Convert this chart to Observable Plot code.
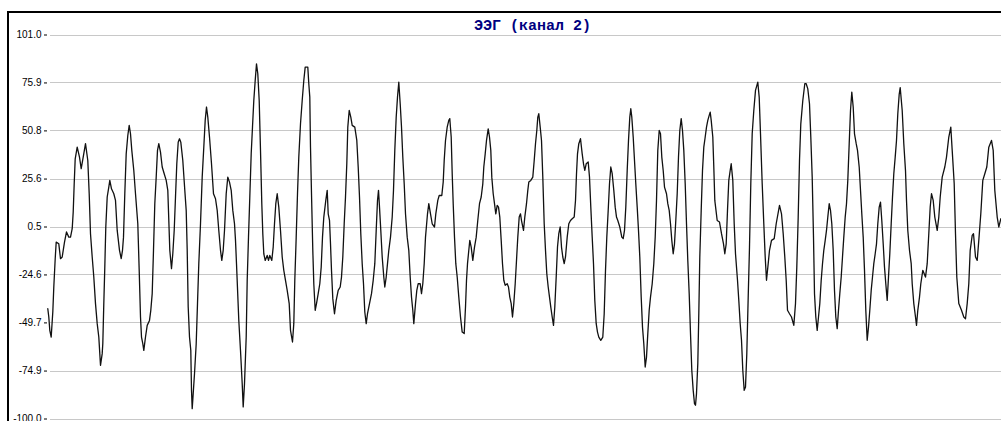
<!DOCTYPE html>
<html>
<head>
<meta charset="utf-8">
<script src="https://cdn.jsdelivr.net/npm/d3@7"></script>
<script src="https://cdn.jsdelivr.net/npm/@observablehq/plot@0.6"></script>
<style>
  html, body { margin: 0; padding: 0; background: #fff; }
  #wrap { position: relative; width: 1001px; height: 421px; overflow: hidden; }
  #panel { position: absolute; left: 7px; top: 11px; width: 1100px; height: 500px;
           border-left: 2px solid #000; border-top: 2px solid #000; pointer-events: none; }
  #wrap svg { position: absolute; left: 0; top: 0; }
</style>
</head>
<body>
<div id="wrap"><div id="panel"></div></div>
<script>
// EEG trace, channel 2: [time (ms), amplitude]
const chartTitle = "ЭЭГ (канал 2)";
const yTicks = [-100.0, -74.9, -49.7, -24.6, 0.5, 25.6, 50.8, 75.9, 101.0];
const samples = [
  [0.3,-42.3],[1.3,-46.6],[2.3,-53.6],[3.7,-57.1],[5.3,-44.0],[6.3,-30.9],[7.7,-16.1],[8.7,-7.4],
  [11.3,-8.3],[13,-16.1],[14.7,-15.2],[17,-7.4],[19,-2.1],[21.3,-4.8],[23,-4.8],[24.7,-0.4],
  [25.7,8.3],[26.7,23.1],[27.7,36.2],[29.7,42.3],[32,37.1],[33.7,31.0],[35.7,37.1],[38,44.1],
  [40.3,35.3],[41.7,17.9],[43,-3.0],[44.7,-15.2],[46.3,-25.7],[48,-39.6],[49.7,-50.1],[51.3,-57.1],
  [52.3,-65.8],[53,-71.9],[54.7,-65.8],[55.3,-60.6],[56.3,-39.6],[57.3,-20.5],[58.3,0.5],[59.7,16.2],
  [61.3,21.4],[62.3,24.9],[64,20.5],[66.3,17.9],[68,14.4],[69.7,-1.3],[72,-11.7],[73.7,-16.1],
  [75,-11.7],[76,-4.8],[77.3,17.9],[78.7,38.8],[80.3,48.4],[81.7,53.7],[83,49.3],[84.3,40.6],
  [86.3,30.1],[88,17.9],[90.3,2.2],[91.7,-22.2],[93,-46.6],
  [94,-57.1],[95.3,-60.6],[96.3,-64.1],[98,-57.1],[99.7,-51.0],[102,-48.4],[103.3,-43.1],[104.7,-34.4],
  [106,-11.7],[107.3,12.7],[108.7,26.6],[110,40.6],[111.3,44.1],[113,39.7],[114.7,31.9],[116.7,28.4],
  [118.7,24.9],[120.3,19.7],[121.3,4.0],[122.3,-11.7],[124,-21.3],[125.3,-13.5],[126.7,-1.3],[128,16.2],
  [129.3,33.6],[130.7,44.9],[132,46.7],[133.3,44.9],[135.3,35.3],[137.3,19.7],[138.7,9.2],[139.7,-11.7],
  [140.7,-41.4],[142,-57.1],[143.3,-64.1],[144,-85.0],[144.7,-94.6],[145.7,-86.7],[147,-76.3],[148.7,-60.6],
  [150,-39.6],[151.3,-18.7],[153,2.2],[154.7,26.6],[156.3,42.3],[157.7,56.3],[159,63.3],[160.3,58.0],
  [162,47.6],[164,33.6],[166,17.9],[168,15.3],[169.7,9.2],[171.3,-1.3],[173,-11.7],[174.3,-17.0],
  [175.7,-11.7],[177,-1.3],[178.7,17.9],[180.3,26.6],[182,24.0],[183.7,19.7],[185.3,9.2],[187,2.2],[188,-6.5],
  [189,-18.7],[191.3,-48.4],[193,-64.1],[194.7,-81.5],[195.7,-93.7],[197,-81.5],[198.7,-57.1],[199.7,-27.4],
  [201,-4.8],[202.3,16.2],[203.7,38.8],[205,52.8],[206.3,66.7],[207.7,77.2],[209,85.9],[210.3,80.7],
  [211.7,66.7],[213,40.6],[214.3,12.7],[215.3,-3.0],[216.3,-13.5],[217.7,-17.0],[219.7,-14.4],[221,-17.0],
  [222.3,-14.4],[224.3,-17.0],[225.7,-10.0],[227,2.2],[228.3,12.7],[229.7,17.9],[231.3,10.9],[233,-1.3],
  [234.7,-15.2],[236.3,-22.2],[238,-27.4],[239.7,-32.7],[241.7,-39.6],[243,-53.6],[245,-59.7],[246.3,-50.1],
  [247.3,-27.4],[248.7,-4.8],[250,17.9],[251.3,37.1],[253,54.5],[254.7,66.7],[256.3,77.2],[257.7,84.2],
  [260.3,84.2],[261.3,75.5],[262.3,68.5],[263,42.3],[264,17.9],[265.3,-11.7],[266.3,-29.2],[267.7,-43.1],
  [269,-39.6],[270.7,-34.4],[272.3,-29.2],[273.7,-20.5],[275,-4.8],[276.3,5.7],[278.3,14.4],[279.7,19.7],
  [280.7,7.4],[282,4.0],[283,-8.3],[284,-22.2],[285.3,-37.0],[287,-44.9],[288.7,-37.9],[290.7,-32.7],
  [292.7,-30.9],[294,-25.7],[295.3,-15.2],[296.7,2.2],[298,16.2],[299.3,33.6],[300.3,52.8],[301.7,61.5],
  [303.3,58.0],[304.7,53.7],[307.3,52.8],[309.3,45.8],[310.7,31.9],[312,16.2],[313.3,-3.0],[314.7,-18.7],
  [316,-29.2],[317.3,-44.0],[318.7,-50.1],[320,-44.9],[322,-39.6],[324,-34.4],[325.7,-27.4],[327.3,-18.7],
  [328.7,-1.3],[330,14.4],[331,19.7],[332,10.9],[333.3,-1.3],[334.7,-15.2],[336.3,-25.7],[337.3,-30.9],
  [338.7,-25.7],[340,-18.7],[341.3,-11.7],[343,-4.8],[344.7,5.7],[346,19.7],[347.3,40.6],[348.7,58.0],
  [350,68.5],[351.3,76.3],[352.7,65.0],[354,52.8],[355.3,37.1],[356.7,23.1],[358,7.4],[359.7,-4.8],
  [361.3,-11.7],[362.7,-25.7],[364,-36.2],[365.3,-43.1],[366.3,-50.1],[368,-39.6],[369.3,-32.7],[370.7,-29.2],
  [372.7,-29.2],[374,-34.4],[375.3,-29.2],[376.7,-18.7],[378,-4.8],
  [380,7.4],[381.3,12.7],[383,7.4],[384.7,2.2],[387,0.5],[388.3,7.4],[390.3,14.4],[391.7,17.0],
  [394.3,17.0],[395.7,24.0],[396.7,35.3],[398,45.8],[399.7,52.8],[401.3,56.3],[402.3,57.2],[403.7,47.6],
  [404.7,28.4],[405.7,12.7],[407,-4.8],[408.3,-18.7],[409.7,-25.7],[411.3,-36.2],[413,-46.6],[414.7,-54.5],
  [416.7,-55.3],[418,-41.4],[419,-27.4],[420,-18.7],[421.3,-11.7],[422.3,-6.5],[423.7,-10.0],[425.3,-17.0],
  [427,-10.0],[428.7,-4.8],[430.3,4.0],[432,12.7],[433.7,16.2],[435.3,23.1],[436.3,31.9],[437.7,38.8],
  [439,45.8],[440.7,51.9],[442,47.6],[443.3,40.6],[444.3,26.6],[445.7,17.9],[447,12.7],[448.3,7.4],
  [449.7,11.8],[451,10.9],[452.3,5.7],[453.7,-6.5],[455,-18.7],[456.3,-27.4],[457.7,-30.0],[459.7,-29.2],
  [461,-30.9],[462.3,-36.2],[463.7,-39.6],[465,-46.6],[466.3,-39.6],[467.7,-29.2],[469,-17.0],[470.3,-4.8],
  [471.7,5.7],[473,7.4],
  [474,3.9],[476,-1.3],[477.3,5.7],[479,12.7],[480.3,19.7],[481.3,24.0],[483.3,24.9],[485.3,26.6],
  [486.7,35.3],[488,44.1],[489.3,51.0],[490.3,58.0],[491.3,59.8],[492.7,52.8],[494,45.8],[495.3,26.6],
  [496.7,2.2],[498,-11.7],[499.3,-24.0],[500.7,-30.9],[502,-36.2],[503.3,-41.4],[504.7,-46.6],[506,-51.0],
  [507.3,-41.4],[508.7,-25.7],[510,-10.0],[511.3,-3.0],[512.7,0.5],[514,-10.0],[515.3,-15.2],[516.7,-18.7],
  [518,-15.2],[519.7,-4.8],[521.3,2.2],[523,3.9],[524.7,4.8],[526.7,5.7],[528,14.4],[529,28.4],
  [530,38.8],[531.3,44.1],[533,46.7],[534.7,38.8],[536,33.6],[537.3,30.1],[538.7,33.6],[540.7,34.5],
  [542,26.6],[543.3,10.9],[544.7,-4.8],[546,-18.7],[547.3,-37.9],[548.7,-50.1],[550,-54.5],[551.3,-57.1],
  [553.3,-58.8],[555.3,-57.1],[556.7,-44.9],[558,-22.2],[559.3,-4.8],[560.7,9.2],[562,23.1],[563.3,31.9],
  [564.7,28.4],
  [566.3,19.7],[567.7,10.9],[569,5.7],[570.3,3.9],[572.3,0.5],[574.3,-4.8],[575.7,-5.6],[577,-1.3],
  [578.3,10.9],[579.7,30.1],[581,45.8],[582.3,58.0],[583.3,62.4],[584.3,58.0],[585.7,47.6],[587,35.3],
  [588.3,23.1],[589.7,10.9],[591,-1.3],[592.3,-15.2],[593.7,-36.2],[595,-51.9],[596.3,-60.6],[597.7,-72.8],
  [599,-67.6],[600.3,-55.3],[601.7,-43.1],[603,-36.2],[604.7,-29.2],[606.3,-18.7],[607.7,-4.8],[609,14.4],
  [610.3,40.6],[611.7,51.0],[613,49.3],[614.3,37.1],[615.7,30.1],[617,21.4],[619,17.9],[620.3,12.7],
  [621.7,9.2],[623,2.2],[624.3,-6.5],[625.7,-13.5],[627,-8.3],[628.3,3.9],[629.7,17.9],[631,37.1],
  [632.3,51.0],[633.7,57.2],[635,51.0],[636.3,40.6],[637.7,23.1],[639,2.2],[640.3,-17.0],[641.7,-34.4],
  [643,-55.3],[644.3,-74.5],[645.7,-85.0],[647,-92.0],[648,-92.8],[649,-86.7],[650.3,-71.0],[651.3,-44.9],
  [652.3,-15.2],[653.7,9.2],[655,30.1],[656.3,42.3],[657.7,47.6],[659,52.8],[660.3,56.3],[661.7,58.9],
  [662.7,60.6],[663.7,56.3],[665.3,47.6],[666.3,31.9],[667.3,14.4],[669.7,3.9],[672,3.1],[674,-3.0],
  [676,-8.3],[677.3,-13.5],[678.7,-8.3],[680,9.2],[681.3,24.9],[682.7,30.1],[683.7,33.6],[685.3,24.9],
  [686.7,2.2],[688,-13.5],[690,-27.4],[691.3,-37.9],[692.7,-50.1],[694,-58.8],[695.3,-74.5],[696.7,-85.0],
  [698,-83.3],[699.3,-65.8],[700.7,-36.2],[702,-10.0],[703.3,23.1],[704.7,49.3],[706.3,61.5],[708,72.0],
  [710.3,76.3],[711.7,68.5],[713,49.3],[714.7,23.1],[716.3,2.2],[717.7,-15.2],[719,-27.4],[720.7,-18.7],
  [722,-11.7],[724,-6.5],[726.7,-5.6],[728.7,2.2],[732,11.8],[734,7.4],[735.7,-3.0],[737.3,-15.2],
  [738.7,-27.4],[740,-43.1],[742,-44.9],[744,-46.6],[746.3,-51.0],[748,-39.6],[749.3,-20.5],[750.7,5.7],
  [752,35.3],[753.3,54.5],[755.3,66.7],[757.3,75.5],
  [758.7,75.5],[760.3,72.8],[762,65.0],[763.3,47.6],[764.7,26.6],[766,-4.8],[767,-34.4],[768.3,-46.6],
  [769.7,-53.6],[771,-46.6],[772.3,-39.6],[773.7,-27.4],[775,-18.7],[776.3,-11.7],[777.7,-6.5],[779,-1.3],
  [780.3,5.7],[781.7,12.7],[783,9.2],[784.3,2.2],[785.7,-11.7],[787,-32.7],[788.3,-46.6],[789.7,-52.7],
  [791,-43.1],[792.3,-34.4],[793.7,-25.7],[795,-15.2],[796.3,-4.8],[797.7,5.7],[799,12.7],[800.3,24.9],
  [801.7,44.1],[803,61.5],[804.3,71.1],[805.7,63.3],[807,49.3],[808.7,44.1],[810,40.6],[811.7,31.9],
  [813,19.7],[814.3,7.4],[815.7,-4.8],[817,-22.2],[818.3,-43.1],[819.7,-58.8],[821,-51.9],[822.3,-43.1],
  [823.7,-32.7],[825,-25.7],[826.3,-18.7],[827.7,-13.5],[829,-8.3],[830.3,2.2],[831.7,10.9],[833,13.5],
  [834.3,3.9],[835.7,-8.3],[837,-20.5],[838.3,-29.2],[839.7,-37.9],[841,-25.7],[842.3,-13.5],[843.7,2.2],
  [845,16.2],[846.3,28.4],[847.7,37.1],[849,45.8],[850.3,59.8],[851.7,70.0],[852.7,73.5],
  [854.7,61.5],[856.3,44.1],[858,30.1],[859,14.4],[860.3,-1.3],[862,-11.7],[863.7,-18.7],[864.7,-29.2],
  [866.3,-39.6],[868,-46.6],[869,-51.0],[870.3,-43.1],[872,-36.2],[873.3,-29.2],[875.3,-22.2],[878,-25.7],
  [879.7,-18.7],[881.3,-3.0],[882.7,10.9],[884,17.9],[885.7,14.4],[887.3,5.7],[889.7,-1.3],[891.3,5.7],
  [892.7,16.2],[894.7,26.6],[897.3,31.9],[899,37.1],[901.3,47.6],[903.3,52.8],[904.7,40.6],[906.7,23.1],
  [908,-3.0],[909.3,-25.7],[911.3,-39.6],[914,-43.1],[916.3,-46.6],[918,-47.5],[919.7,-39.6],[921.3,-29.2],
  [922.7,-11.7],[924.7,-3.9],[926,-3.0],[928,-15.2],[929.7,-17.0],[931.3,-6.5],[933.3,7.4],[935.3,24.9],
  [937.3,28.4],[939.3,31.9],[941.3,42.3],[944,45.8],[945.7,40.6],[947.3,19.7],[949.7,5.7],[951.3,0.5],
  [953.3,4.8]
];

const chart = Plot.plot({
  width: 1001,
  height: 421,
  marginLeft: 47,
  marginRight: 0,
  marginTop: 34.5,
  marginBottom: 2.5,
  style: { fontFamily: "'Liberation Sans', Arial, sans-serif", fontSize: "10px", background: "transparent", color: "#000" },
  x: { domain: [0, 954], axis: null },
  y: { domain: [-100, 101] },
  marks: [
    Plot.ruleY(yTicks, { stroke: "#c8c8c8", strokeWidth: 1, insetLeft: 3, shapeRendering: "crispEdges" }),
    Plot.axisY(yTicks, {
      tickSize: 3, tickPadding: 3, stroke: "#000", strokeWidth: 1,
      tickFormat: d => d.toFixed(1), label: null, fill: "#000"
    }),
    Plot.line(samples, {
      x: d => d[0], y: d => d[1],
      stroke: "#111", strokeWidth: 1.3, curve: "linear"
    }),
    Plot.text([chartTitle], {
      frameAnchor: "top", lineAnchor: "middle", dy: -9.5, dx: 8,
      fill: "#000080", fontWeight: "bold", fontSize: 15,
      fontFamily: "'Liberation Mono', 'Courier New', monospace"
    })
  ]
});

document.getElementById("wrap").appendChild(chart);
</script>
</body>
</html>
